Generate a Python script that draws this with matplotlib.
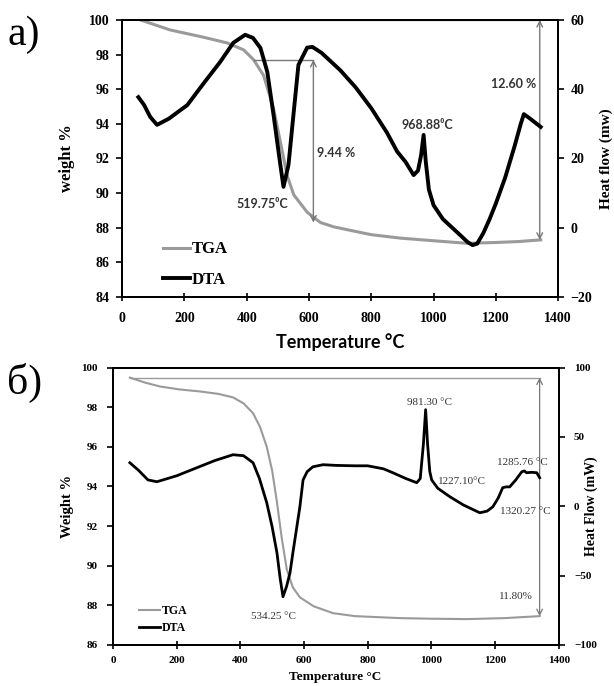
import matplotlib.pyplot as plt
import numpy as np

SERIF = ['Liberation Serif', 'DejaVu Serif']
SANS = ['Lato', 'DejaVu Sans']

# ---- a) ----
tga_a_t = [58, 154, 261, 337, 390, 422, 454, 486, 508, 530, 551, 594, 637, 680, 733, 800, 894, 1000, 1109, 1200, 1270, 1344]
tga_a_w = [100, 99.42, 99.0, 98.67, 98.27, 97.7, 96.8, 94.9, 92.95, 91.0, 89.9, 88.9, 88.3, 88.05, 87.85, 87.6, 87.4, 87.25, 87.1, 87.15, 87.2, 87.3]

dta_a_t = [52, 70, 90, 112, 150, 209, 260, 315, 357, 395, 420, 444, 466, 486, 508, 518, 534, 550, 566, 594, 611,
           640, 700, 750, 800, 850, 883, 910, 936, 950, 960, 968, 975, 985, 1000, 1030, 1060, 1090, 1110, 1125,
           1140, 1160, 1180, 1200, 1230, 1260, 1280, 1290, 1310, 1344]
dta_a_hf = [37.7, 35.5, 32, 29.7, 31.5, 35.4, 41.5, 47.9, 53.4, 55.7, 54.8, 51.9, 45, 32.6, 18.1, 11.8, 18.1, 32.6, 47, 52, 52.2,
            50.5, 45.5, 40.5, 34.5, 27.5, 22, 19, 15.2, 16.5, 21, 26.8, 19, 11, 6.5, 2.5, 0, -2.5, -4.2, -5,
            -4.6, -1.5, 2.5, 7, 14.5, 23.5, 30, 32.8, 31.5, 29.1]

# ---- б) ----
tga_b_t = [53, 100, 148, 210, 273, 330, 377, 410, 440, 462, 483, 500, 515, 530, 546, 565, 587, 630, 691, 760, 901, 1000, 1111, 1230, 1340]
tga_b_w = [99.5, 99.25, 99.05, 98.9, 98.8, 98.68, 98.5, 98.2, 97.7, 97.0, 96.0, 94.8, 93.2, 91.4, 89.8, 88.9, 88.4, 87.95, 87.6, 87.45, 87.35, 87.32, 87.3, 87.35, 87.45]

dta_b_t = [53, 80, 110, 138, 200, 260, 320, 377, 410, 440, 460, 483, 500, 515, 525, 534, 545, 556, 565, 587, 597, 610, 628,
           660, 700, 760, 800, 850, 879, 920, 954, 965, 975, 982, 988, 995, 1001, 1020, 1058, 1100, 1152, 1175,
           1193, 1210, 1224, 1235, 1246, 1265, 1284, 1292, 1299, 1315, 1331, 1340]
dta_b_hf = [31.4, 26, 19, 17.7, 22, 27.5, 33, 37.2, 36.5, 31.4, 20, 2.5, -15, -33.6, -52, -65.3, -58, -48, -33.6, -0.4, 19, 25, 28.5,
            30, 29.5, 29.2, 29.2, 27, 24.2, 20, 17, 20, 45, 69.7, 45, 25, 19, 13, 6.9, 1, -4.7, -3.5,
            -0.4, 6, 13.4, 14, 14, 19, 24.9, 25.5, 24.2, 24.5, 24.2, 20.6]

fig = plt.figure(figsize=(6.14, 6.86), dpi=100)


def style_axes(ax, ax2, tsize, xpad, ypad):
    for a in (ax, ax2):
        for s in a.spines.values():
            s.set_linewidth(1.4)
        a.tick_params(axis='y', direction='out', length=4, width=1.2, labelsize=tsize, pad=ypad)
        a.tick_params(axis='x', direction='inout', length=6, width=1.2, labelsize=tsize, pad=xpad)
        for lab in a.get_xticklabels() + a.get_yticklabels():
            lab.set_family(SERIF)
            lab.set_fontweight('bold')


# ---------- top panel ----------
ax = fig.add_axes([0.199, 0.567, 0.710, 0.404])
ax2 = ax.twinx()
ax.set_xlim(0, 1400)
ax.set_ylim(84, 100)
ax.set_xticks(np.arange(0, 1401, 200))
ax.set_yticks(np.arange(84, 101, 2))
ax2.set_ylim(-20, 60)
ax2.set_yticks(np.arange(-20, 61, 20))

l1, = ax.plot(tga_a_t, tga_a_w, color='#9a9a9a', lw=2.2, label='TGA')
l2, = ax2.plot(dta_a_t, dta_a_hf, color='black', lw=2.8, label='DTA')
style_axes(ax, ax2, 10, 8, 5)

ax.plot([58, 1341], [100, 100], color='#9a9a9a', lw=1)
ax.plot([422, 614], [97.7, 97.7], color='#777777', lw=1)
ax.annotate('', xy=(614, 88.3), xytext=(614, 97.7),
            arrowprops=dict(arrowstyle='<->', color='#777777', lw=1, shrinkA=0, shrinkB=0))
ax.annotate('', xy=(1341, 87.3), xytext=(1341, 100),
            arrowprops=dict(arrowstyle='<->', color='#777777', lw=1, shrinkA=0, shrinkB=0))

ax2.text(534, 7, '519.75\u2070C', family=SANS, fontweight='bold', fontsize=9, ha='right', va='center', color='#333333')
ax.text(625, 92.3, '9.44 %', family=SANS, fontweight='bold', fontsize=9, ha='left', va='center', color='#333333')
ax2.text(980, 29.6, '968.88\u2070C', family=SANS, fontweight='bold', fontsize=9, ha='center', va='center', color='#333333')
ax2.text(1330, 41.5, '12.60 %', family=SANS, fontweight='bold', fontsize=9, ha='right', va='center', color='#333333')

ax.legend(handles=[l1, l2], loc='lower left', bbox_to_anchor=(0.06, -0.02), frameon=False,
          prop={'family': SERIF, 'weight': 'bold', 'size': 12}, handlelength=1.6, handletextpad=0.1,
          labelspacing=0.85)

ax.set_xlabel('Temperature \u00b0C', family=SANS, fontweight='bold', fontsize=13)
ax.xaxis.set_label_coords(0.5, -0.13)
ax.set_ylabel('weight %', family=SERIF, fontweight='bold', fontsize=12)
ax.yaxis.set_label_coords(-0.108, 0.5)
ax2.set_ylabel('Heat flow (mw)', family=SERIF, fontweight='bold', fontsize=11)
ax2.yaxis.set_label_coords(1.094, 0.5)

# ---------- bottom panel ----------
bx = fig.add_axes([0.184, 0.060, 0.726, 0.404])
bx2 = bx.twinx()
bx.set_xlim(0, 1400)
bx.set_ylim(86, 100)
bx.set_xticks(np.arange(0, 1401, 200))
bx.set_yticks(np.arange(86, 101, 2))
bx2.set_ylim(-100, 100)
bx2.set_yticks(np.arange(-100, 101, 50))

m1, = bx.plot(tga_b_t, tga_b_w, color='#9a9a9a', lw=1.5, label='TGA')
m2, = bx2.plot(dta_b_t, dta_b_hf, color='black', lw=2.0, label='DTA')
style_axes(bx, bx2, 8, 5, 7)

bx.plot([53, 1340], [99.5, 99.5], color='#9a9a9a', lw=1)
bx.annotate('', xy=(1340, 87.45), xytext=(1340, 99.5),
            arrowprops=dict(arrowstyle='<->', color='#777777', lw=0.9, shrinkA=0, shrinkB=0))

bkw = dict(family=SERIF, fontsize=8, ha='center', va='center', color='#333333')
bx2.text(993, 75, '981.30 \u00b0C', **bkw)
bx2.text(1285, 31.4, '1285.76 \u00b0C', **bkw)
bx2.text(1095, 17.7, '1227.10\u00b0C', **bkw)
bx2.text(1295, -4, '1320.27 \u00b0C', **bkw)
bx2.text(503, -79.8, '534.25 \u00b0C', **bkw)
bx.text(1318, 88.43, '11.80%', family=SERIF, fontsize=8, ha='right', va='center', color='#333333')

bx.legend(handles=[m1, m2], loc='lower left', bbox_to_anchor=(0.035, 0.0), frameon=False,
          prop={'family': SERIF, 'weight': 'bold', 'size': 8.5}, handlelength=1.8, handletextpad=0.1,
          labelspacing=0.4)

bx.set_xlabel('Temperature \u00b0C', family=SERIF, fontweight='bold', fontsize=9.5)
bx.xaxis.set_label_coords(0.498, -0.095)
bx.set_ylabel('Weight %', family=SERIF, fontweight='bold', fontsize=10.5)
bx.yaxis.set_label_coords(-0.087, 0.5)
bx2.set_ylabel('Heat Flow (mW)', family=SERIF, fontweight='bold', fontsize=10)
bx2.yaxis.set_label_coords(1.058, 0.5)

fig.text(0.012, 0.95, 'a)', family=SERIF, fontsize=30, va='center')
fig.text(0.012, 0.442, '\u0431)', family=SERIF, fontsize=30, va='center')

fig.savefig('out.png', dpi=100)
